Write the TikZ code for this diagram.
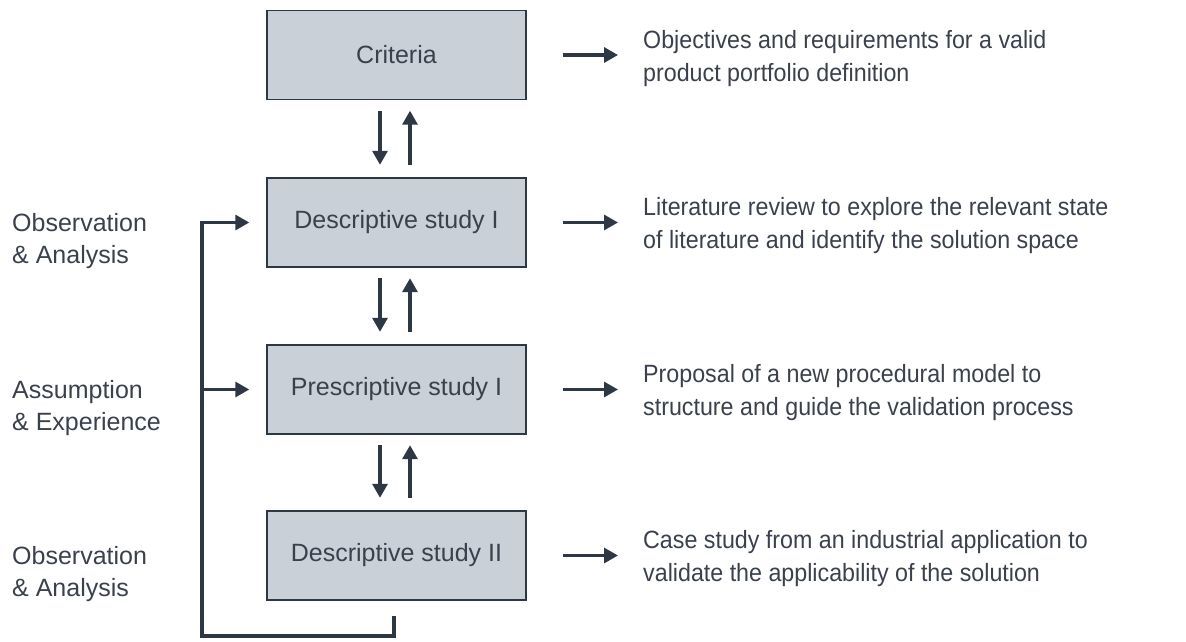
\documentclass[tikz,border=0pt]{standalone}
\usepackage{fontspec}
\setmainfont{Liberation Sans}
\newfontfamily\narrowsans{Liberation Sans}[FakeStretch=0.93]
\usetikzlibrary{arrows.meta,calc}
\definecolor{ink}{HTML}{2E3845}
\definecolor{txt}{HTML}{3A414D}
\definecolor{boxfill}{HTML}{CAD0D8}
\begin{document}
\begin{tikzpicture}[x=1pt,y=-1pt,
  stage/.style={draw=ink,fill=boxfill,line width=1.4pt,minimum width=259pt,minimum height=89pt,
    text=txt,font=\fontsize{25}{33}\selectfont,inner sep=0pt},
  side/.style={anchor=west,align=left,inner sep=0pt,text=txt,font=\fontsize{25}{32}\selectfont},
  note/.style={anchor=west,align=left,inner sep=0pt,text=txt,font=\narrowsans\fontsize{25}{33}\selectfont},
  flow/.style={draw=ink,line width=3.2pt,-{Triangle[length=14pt,width=15pt]}},
  loop/.style={draw=ink,line width=3.6pt,line join=miter}]
\useasboundingbox (0,0) rectangle (1186,641);

% process stages
\node[stage] (c)  at (396.5,55)  {Criteria};
\node[stage] (d1) at (396.5,222.5) {Descriptive study I};
\node[stage] (p1) at (396.5,389.5) {Prescriptive study I};
\node[stage] (d2) at (396.5,555.5) {Descriptive study II};

% outcomes on the right
\node[note] (oc)  at (643,59)  {Objectives and requirements for a valid\\product portfolio definition};
\node[note] (od1) at (643,226) {Literature review to explore the relevant state\\of literature and identify the solution space};
\node[note] (op1) at (643,393) {Proposal of a new procedural model to\\structure and guide the validation process};
\node[note] (od2) at (643,559) {Case study from an industrial application to\\validate the applicability of the solution};

% inputs on the left
\node[side] (ld1) at (12,241) {Observation\\\& Analysis};
\node[side] (lp1) at (12,408) {Assumption\\\& Experience};
\node[side] (ld2) at (12,574) {Observation\\\& Analysis};

% arrows towards the outcomes
\foreach \s/\o in {c/oc,d1/od1,p1/op1,d2/od2}
  \draw[flow] ([xshift=36]\s.east) -- ([xshift=-25]\s.east -| \o.west);

% iteration between stages
\foreach \a/\b in {c/d1,d1/p1,p1/d2}{
  \draw[flow] ([xshift=-16.5,yshift=-10.5]\a.south) -- ([xshift=-16.5,yshift=12.5]\b.north);
  \draw[flow] ([xshift=13.5,yshift=12.5]\b.north) -- ([xshift=13.5,yshift=-10.5]\a.south);
}

% feedback loop from the last stage
\coordinate (fbstart) at ([xshift=-2.5,yshift=-15]d2.south);
\coordinate (fbcorner) at (202,636);
\coordinate (tipd1) at ([xshift=-17]d1.west);
\coordinate (tipp1) at ([xshift=-17]p1.west);
\coordinate (branch) at (fbcorner |- tipp1);
\draw[loop] (fbstart) |- (fbcorner) -- (fbcorner |- tipd1) -- ([xshift=-12]tipd1);
\draw[flow] ([xshift=-1.8]fbcorner |- tipd1) -- (tipd1);
\draw[flow] (branch) -- (tipp1);
\end{tikzpicture}
\end{document}
